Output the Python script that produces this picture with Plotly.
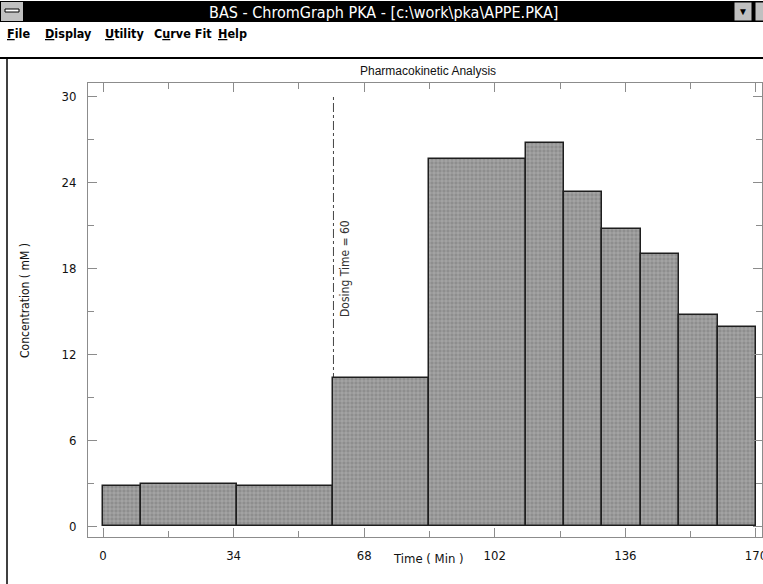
import plotly.graph_objects as go

# Sampling intervals (minutes) and measured concentration in each interval (mM)
interval_start = [0, 10, 35, 60, 85, 110, 120, 130, 140, 150, 160]
interval_end = [10, 35, 60, 85, 110, 120, 130, 140, 150, 160, 170]
concentration = [2.8, 2.9, 2.8, 10.3, 25.6, 26.7, 23.3, 20.7, 19.0, 14.7, 13.9]

x_ticks = [0, 34, 68, 102, 136, 170]
x_minor = [17, 51, 85, 119, 153]
y_ticks = [0, 6, 12, 18, 24, 30]
y_minor = [3, 9, 15, 21, 27]
dosing_time = 60

menu_items = ["<u>F</u>ile", "<u>D</u>isplay", "<u>U</u>tility", "C<u>u</u>rve Fit", "<u>H</u>elp"]
menu_x = [5, 43, 103, 152, 216]

W, H = 763, 584
L, R, T, B = 88, 762, 83, 537  # plot frame in pixels


def px(xp):
    return (xp - L) / (R - L)


def py(yp):
    return (B - yp) / (B - T)


widths = [e - s for s, e in zip(interval_start, interval_end)]

NARROW = "Liberation Sans Narrow, DejaVu Sans Condensed, Arial Narrow, sans-serif"
AXIS_GRAY = "#8c8c8c"

fig = go.Figure()
fig.add_trace(go.Bar(
    x=interval_start,
    y=concentration,
    width=widths,
    offset=0,
    marker=dict(
        color="#8e8e8e",
        line=dict(color="#1e1e1e", width=1.5),
        pattern=dict(shape="+", fgcolor="#e8e8e8", size=4, solidity=0.25),
    ),
    hoverinfo="x+y",
))

axis_common = dict(
    ticks="inside",
    ticklen=9,
    tickwidth=1,
    tickcolor=AXIS_GRAY,
    showline=True,
    linecolor=AXIS_GRAY,
    linewidth=1,
    mirror="ticks",
    showgrid=False,
    zeroline=False,
    tickfont=dict(family=NARROW, size=13, color="#111"),
    tickmode="array",
    ticklabeloverflow="allow",
    automargin=False,
)

fig.update_xaxes(
    **axis_common,
    range=[-3.905, 171.57],
    tickvals=x_ticks,
    ticktext=[str(v) for v in x_ticks],
    minor=dict(tickvals=x_minor, ticks="inside", ticklen=6, tickcolor=AXIS_GRAY, showgrid=False),
    ticklabelstandoff=6,
)
fig.update_yaxes(
    **axis_common,
    range=[-0.767, 30.91],
    tickvals=y_ticks,
    ticktext=[str(v) for v in y_ticks],
    minor=dict(tickvals=y_minor, ticks="inside", ticklen=6, tickcolor=AXIS_GRAY, showgrid=False),
    ticklabelstandoff=8,
)

shapes = [
    # dosing marker
    dict(type="line", xref="x", yref="y", x0=dosing_time, x1=dosing_time, y0=0, y1=30.1,
         line=dict(color="#444", width=1, dash="dashdot"), layer="below"),
    # title bar
    dict(type="rect", xref="paper", yref="paper", x0=px(0), x1=px(W), y0=py(1), y1=py(22),
         fillcolor="#000", line=dict(width=0)),
    # system menu box
    dict(type="rect", xref="paper", yref="paper", x0=px(1), x1=px(23), y0=py(2), y1=py(21),
         fillcolor="#c0c0c0", line=dict(width=0)),
    dict(type="rect", xref="paper", yref="paper", x0=px(5), x1=px(19), y0=py(9), y1=py(12),
         fillcolor="#ffffff", line=dict(color="#000", width=1)),
    # window buttons
    dict(type="rect", xref="paper", yref="paper", x0=px(734), x1=px(752), y0=py(2), y1=py(21),
         fillcolor="#c0c0c0", line=dict(color="#000", width=1)),
    dict(type="rect", xref="paper", yref="paper", x0=px(755), x1=px(770), y0=py(2), y1=py(21),
         fillcolor="#c0c0c0", line=dict(color="#000", width=1)),
    # separator under the menu bar
    dict(type="line", xref="paper", yref="paper", x0=px(0), x1=px(W), y0=py(58), y1=py(58),
         line=dict(color="#000", width=2)),
    # left window border
    dict(type="line", xref="paper", yref="paper", x0=px(7), x1=px(7), y0=py(58), y1=py(H),
         line=dict(color="#000", width=1.5)),
]

annotations = [
    dict(text="BAS - ChromGraph PKA - [c:\\work\\pka\\APPE.PKA]", xref="paper", yref="paper",
         x=px(383), y=py(12), xanchor="center", yanchor="middle", showarrow=False,
         font=dict(family=NARROW, size=16, color="#fff")),
    dict(text="▼", xref="paper", yref="paper", x=px(743), y=py(11), xanchor="center",
         yanchor="middle", showarrow=False, font=dict(size=10, color="#000")),
    dict(text="Pharmacokinetic Analysis", xref="paper", yref="paper", x=px(428), y=py(71),
         xanchor="center", yanchor="middle", showarrow=False,
         font=dict(family="Liberation Sans, Arial, sans-serif", size=12, color="#111")),
    dict(text="Concentration ( mM )", xref="paper", yref="paper", x=px(25), y=py(301),
         xanchor="center", yanchor="middle", textangle=-90, showarrow=False,
         font=dict(family=NARROW, size=12, color="#111")),
    dict(text="Time ( Min )", xref="paper", yref="paper", x=px(428), y=py(558),
         xanchor="center", yanchor="middle", showarrow=False,
         font=dict(family=NARROW, size=13, color="#111")),
    dict(text=f"Dosing Time = {dosing_time}", xref="x", yref="y", x=dosing_time + 3, y=18.0,
         xanchor="center", yanchor="middle", textangle=-90, showarrow=False,
         font=dict(family=NARROW, size=12, color="#333")),
]
for label, xpos in zip(menu_items, menu_x):
    annotations.append(dict(text=f"<b>{label}</b>", xref="paper", yref="paper", x=px(xpos),
                            y=py(33), xanchor="left", yanchor="middle", showarrow=False,
                            font=dict(family=NARROW, size=12.5, color="#000")))

fig.update_layout(
    width=W,
    height=H,
    margin=dict(l=L, r=W - R, t=T, b=H - B, pad=0, autoexpand=False),
    paper_bgcolor="#ffffff",
    plot_bgcolor="#ffffff",
    showlegend=False,
    bargap=0,
    shapes=shapes,
    annotations=annotations,
)

fig.write_html("out.html")
